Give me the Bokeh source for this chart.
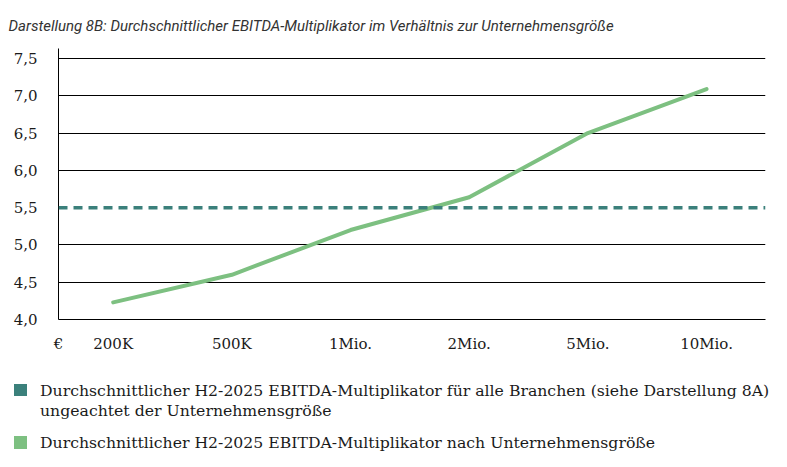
from bokeh.plotting import figure
from bokeh.models import FixedTicker, Span, Range1d, ColumnDataSource, Div
from bokeh.layouts import column
from bokeh.embed import file_html
from bokeh.resources import INLINE

title_text = "Darstellung 8B: Durchschnittlicher EBITDA-Multiplikator im Verhältnis zur Unternehmensgröße"
sizes = ["200K", "500K", "1Mio.", "2Mio.", "5Mio.", "10Mio."]
multiples = [4.23, 4.6, 5.2, 5.64, 6.5, 7.09]
avg_all = 5.5
y_ticks = [4.0, 4.5, 5.0, 5.5, 6.0, 6.5, 7.0, 7.5]
y_tick_labels = ["4,0", "4,5", "5,0", "5,5", "6,0", "6,5", "7,0", "7,5"]
currency = "€"
legend_labels = [
    "Durchschnittlicher H2-2025 EBITDA-Multiplikator für alle Branchen (siehe Darstellung 8A)\nungeachtet der Unternehmensgröße",
    "Durchschnittlicher H2-2025 EBITDA-Multiplikator nach Unternehmensgröße",
]
teal = "#3B807B"
green = "#7DC081"
serif = "DejaVu Serif"
text_col = "#1a1a1a"

W, H1, H2 = 787, 365, 102
FL, FR, FT, FB = 58, 765, 45, 319          # frame edges in pixels
x_start, x_end = -0.461, 5.497
y_start, y_end = 4.0, 7.634
xs = list(range(len(sizes)))

p = figure(width=W, height=H1, x_range=Range1d(x_start, x_end),
           y_range=Range1d(y_start, y_end), output_backend="svg", toolbar_location=None,
           min_border_left=FL, min_border_right=W - FR, min_border_top=FT, min_border_bottom=H1 - FB)
p.title.text = title_text
p.title.text_font = "Roboto"
p.title.text_font_style = "italic"
p.title.text_font_size = "15px"
p.title.text_color = "#333333"
p.title.offset = -50
p.title.standoff = 28
p.outline_line_color = None
p.background_fill_color = "white"
p.border_fill_color = "white"

p.xgrid.grid_line_color = None
p.ygrid.ticker = FixedTicker(ticks=[t for t in y_ticks if t != avg_all])
p.ygrid.grid_line_color = "black"
p.ygrid.grid_line_alpha = 1.0
p.ygrid.grid_line_width = 1

p.yaxis.ticker = FixedTicker(ticks=y_ticks)
p.yaxis.major_label_overrides = {t: l for t, l in zip(y_ticks, y_tick_labels)}
p.xaxis.ticker = FixedTicker(ticks=[x_start] + xs)
p.xaxis.major_label_overrides = dict([(x_start, currency)] + list(zip(xs, sizes)))
for ax in (p.xaxis[0], p.yaxis[0]):
    ax.axis_line_color = "black"
    ax.axis_line_width = 1
    ax.major_tick_line_color = None
    ax.minor_tick_line_color = None
    ax.major_tick_out = 0
    ax.major_tick_in = 0
    ax.minor_tick_out = 0
    ax.major_label_text_font = serif
    ax.major_label_text_font_size = "15px"
    ax.major_label_text_color = text_col
p.yaxis.major_label_standoff = 21
p.xaxis.major_label_standoff = 15

p.add_layout(Span(location=avg_all, dimension="width", line_color=teal,
                  line_width=3.5, line_dash="9 6"))
src = ColumnDataSource(dict(x=xs, y=multiples))
p.line("x", "y", source=src, line_color=green, line_width=4, line_join="round", line_cap="round")

# ---- legend as HTML block below the chart
sq_tops = [18.6, 71.2]
text_tops = [16.3, 67.8]
parts = []
for lab, col, st, tt in zip(legend_labels, [teal, green], sq_tops, text_tops):
    parts.append(
        f'<div style="position:absolute;left:14px;top:{st}px;width:12.7px;height:12.7px;'
        f'background:{col};"></div>')
    html_lab = lab.replace("\n", "<br>")
    parts.append(
        f'<div style="position:absolute;left:40px;top:{tt}px;white-space:nowrap;'
        f'font-family:\'{serif}\';font-size:15.7px;line-height:20px;color:{text_col};">'
        f'{html_lab}</div>')
html = (f'<div style="position:relative;width:{W}px;height:{H2}px;background:white;">'
        + "".join(parts) + "</div>")
legend_div = Div(text=html, width=W, height=H2, margin=(0, 0, 0, 0))

layout = column(p, legend_div, spacing=0)
open("out.html", "w").write(file_html(layout, INLINE))
